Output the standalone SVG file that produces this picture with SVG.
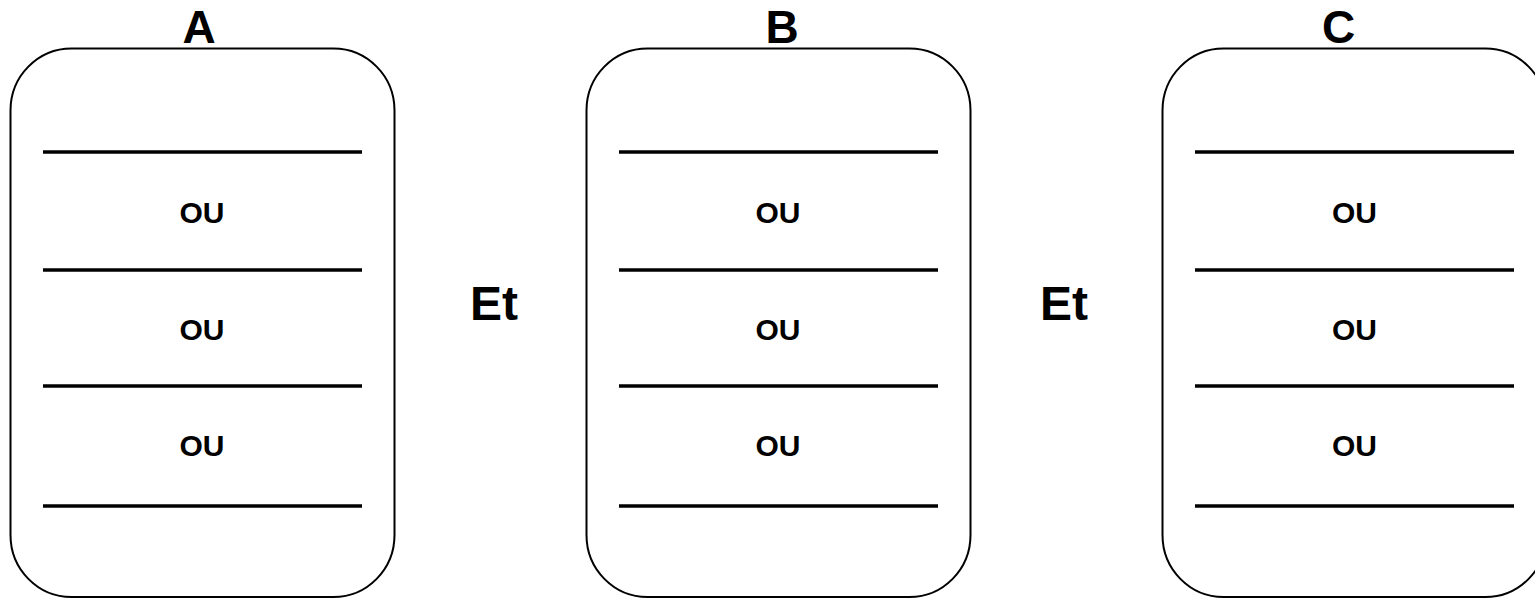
<svg xmlns="http://www.w3.org/2000/svg" width="1535" height="599" viewBox="0 0 1535 599">
<style>
.box{fill:#fff;stroke:#000;stroke-width:2}
.sep{stroke:#000;stroke-width:3.5}
.title{font-family:"Liberation Sans",Arial,sans-serif;font-weight:bold;font-size:46px;text-anchor:middle;fill:#000}
.et{font-family:"Liberation Sans",Arial,sans-serif;font-weight:bold;font-size:48px;text-anchor:middle;fill:#000}
.ou{font-family:"Liberation Sans",Arial,sans-serif;font-weight:bold;font-size:30px;text-anchor:middle;fill:#000}
</style>
<rect width="1535" height="599" fill="#fff"/>
<g id="nodeA">
<rect class="box" x="10.5" y="48.5" width="384" height="548.5" rx="61" ry="62"/>
<line class="sep" x1="43" y1="152" x2="362" y2="152"/>
<line class="sep" x1="43" y1="270" x2="362" y2="270"/>
<line class="sep" x1="43" y1="386" x2="362" y2="386"/>
<line class="sep" x1="43" y1="506" x2="362" y2="506"/>
<text class="ou" x="202" y="223">OU</text>
<text class="ou" x="202" y="340">OU</text>
<text class="ou" x="202" y="456">OU</text>
<text class="title" x="199" y="42.5">A</text>
</g>
<g id="nodeB">
<rect class="box" x="586.5" y="48.5" width="384" height="548.5" rx="61" ry="62"/>
<line class="sep" x1="619" y1="152" x2="938" y2="152"/>
<line class="sep" x1="619" y1="270" x2="938" y2="270"/>
<line class="sep" x1="619" y1="386" x2="938" y2="386"/>
<line class="sep" x1="619" y1="506" x2="938" y2="506"/>
<text class="ou" x="778" y="223">OU</text>
<text class="ou" x="778" y="340">OU</text>
<text class="ou" x="778" y="456">OU</text>
<text class="title" x="782" y="42.5">B</text>
</g>
<g id="nodeC">
<rect class="box" x="1162.5" y="48.5" width="384" height="548.5" rx="61" ry="62"/>
<line class="sep" x1="1195" y1="152" x2="1514" y2="152"/>
<line class="sep" x1="1195" y1="270" x2="1514" y2="270"/>
<line class="sep" x1="1195" y1="386" x2="1514" y2="386"/>
<line class="sep" x1="1195" y1="506" x2="1514" y2="506"/>
<text class="ou" x="1354.5" y="223">OU</text>
<text class="ou" x="1354.5" y="340">OU</text>
<text class="ou" x="1354.5" y="456">OU</text>
<text class="title" x="1338.5" y="42.5">C</text>
</g>
<g id="connectors">
<text class="et" x="494" y="320">Et</text>
<text class="et" x="1064" y="320">Et</text>
</g>
</svg>
